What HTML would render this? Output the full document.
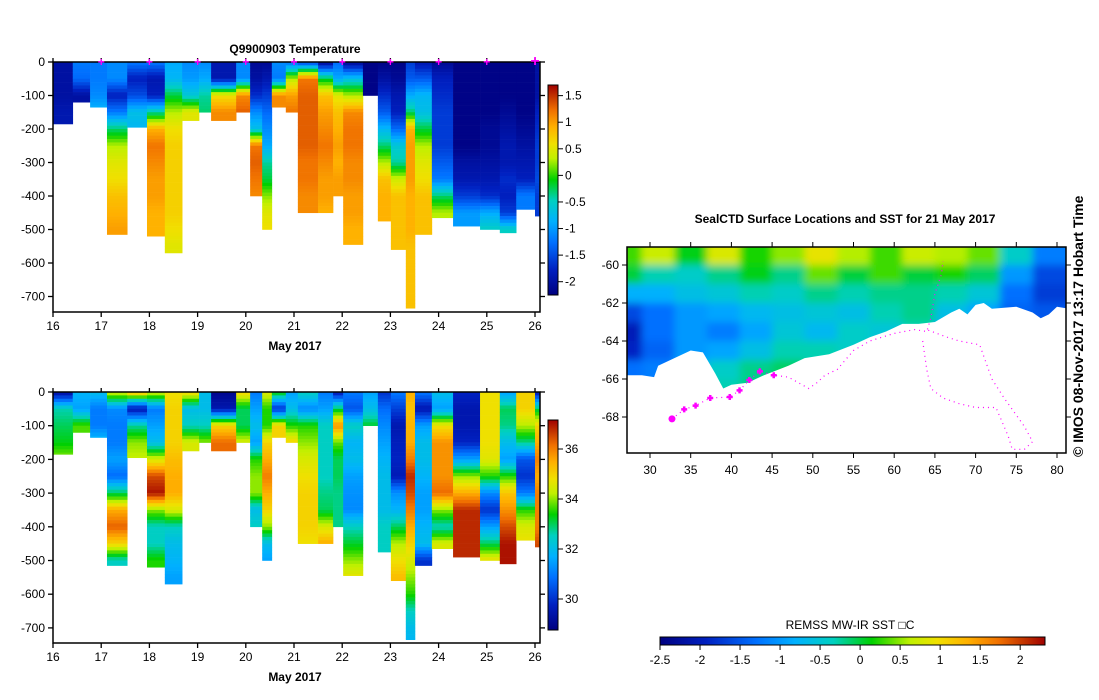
<!DOCTYPE html>
<html><head><meta charset="utf-8">
<style>
body{margin:0;background:#fff;}
svg{display:block;font-family:"Liberation Sans",sans-serif;}
text{fill:#000;}
</style></head>
<body>
<svg id="root" width="1099" height="700" viewBox="0 0 1099 700" xmlns="http://www.w3.org/2000/svg">
<defs>
<clipPath id="mapclip"><rect x="627" y="247" width="439" height="206"/></clipPath>
<filter id="blur" x="-0.1" y="-0.1" width="1.2" height="1.2"><feGaussianBlur stdDeviation="4"/></filter>
</defs>
</svg>
<script>
// ---------- DATA ----------
const profileDays = [16.0,16.41,16.77,17.12,17.54,17.95,18.32,18.68,19.03,19.28,19.80,20.09,20.34,20.54,20.83,21.08,21.50,21.81,22.02,22.43,22.74,23.01,23.32,23.51,23.86,24.30,24.86,25.27,25.61,26.0];
const profileEndDay = 26.1;
const maxDepths = [185,120,135,515,195,520,570,175,150,175,150,400,500,135,150,450,450,400,545,100,475,560,735,515,465,490,500,510,440,460];
// temperature at 0,50,100,... m
const tempProfiles = [
[-2,-2,-2,-1.9],
[-1.2,-1.3,-2],
[-1.2,-1.2,-1.1,-0.8],
[-1.1,-1.1,-1.8,-1.2,-0.3,0.3,0.5,0.6,0.8,0.9,1.0],
[-1.2,-1.8,-1.5,-0.7,-0.8],
[-1.2,-1.9,-1.8,-0.4,0.9,1.2,1.1,1.0,1.0,0.9,0.9],
[-0.9,-0.8,-0.2,0.3,0.6,0.7,0.7,0.7,0.7,0.7,0.6,0.5],
[-1.1,-1.0,-0.6,0.5],
[-1.1,-0.9,-0.4,-0.3],
[-1.9,-1.9,0.6,1.1],
[-1.1,-1.1,1.1,1.3],
[-2.1,-2.0,-1.7,-1.1,-0.7,1.2,1.3,1.2,1.1],
[-2.1,-1.9,-1.6,-1.3,-1.1,-0.9,-0.4,-0.2,0.2,0.5,0.6],
[-1.1,-1.2,1.1],
[-1.3,0.3,1.0,1.2],
[-1.6,1.2,1.3,1.3,1.3,1.3,1.2,1.2,1.1,1.1],
[-2.1,-0.2,0.8,1.0,1.1,1.2,1.1,1.0,1.0,0.9],
[-1.3,-0.9,0.5,0.8,0.9,1.0,0.9,1.0,1.0],
[-2.1,-0.7,0.3,1.1,1.2,1.2,1.1,1.1,1.0,1.0,0.9,0.9],
[-2.2,-2.2,-2.2],
[-2.2,-2.0,-1.7,-1.4,-0.8,-0.3,0.3,0.8,0.9,0.9],
[-2.2,-2.1,-1.9,-1.8,-1.3,-0.6,-0.4,0.4,0.8,0.8,0.8,0.8],
[-1.6,-1.4,-0.9,-0.3,0.9,1.0,1.0,1.0,0.9,0.9,0.9,0.8,0.8,0.8,0.8],
[-1.9,-1.4,-0.8,-0.7,-0.2,0.3,0.5,0.6,0.8,0.8,0.8],
[-2.1,-1.8,-1.7,-1.6,-1.6,-1.6,-1.4,-1.2,-0.3,0.3],
[-2.2,-2.2,-2.2,-2.2,-2.2,-2.2,-2.0,-1.9,-1.6,-1.0],
[-2.2,-2.2,-2.2,-2.2,-2.1,-2.1,-2.0,-1.9,-1.7,-0.9,-0.5],
[-2.2,-2.2,-2.2,-2.1,-2.0,-1.9,-1.9,-1.7,-1.8,-1.6,-0.5],
[-2.2,-2.2,-2.2,-2.2,-2.1,-2.0,-1.9,-1.8,-1.2],
[-2.0,-2.0,-2.0,-1.8,-1.7,-1.6,-1.6,-1.5,-1.6,-1.6]
];
const salProfiles = [
[29.2,32.6,33,33.3,34],
[31.8,31.5,33.7],
[32,31,31,32],
[34.5,31.2,31,31,31.5,30.8,33,35.5,36.3,35,32.5],
[35.5,29.5,32.7,34,34.3],
[34.5,31,31.5,32,34.5,36.5,37,34,32.5,32.5,33.5],
[34.8,35,35,35,35.3,35.5,35.5,34.5,32.5,32,31.8,31.5],
[35,32,32.5,34.5],
[32,32,32.5,34],
[29,29.5,35,36.2],
[35,33,33,34.5],
[31,31.5,32,31.5,33.5,34,34,32,32.5],
[34.5,33.5,33.5,35,35.5,36,35.5,35,34,32,31.5],
[33.5,30,35],
[31.5,32,33.5,35],
[32.5,31.2,33.5,34,34.5,34.8,35,35,35,34.8],
[31,31.5,32.5,32.5,32.5,32.5,32.8,33,34.5,35.5],
[29.5,33,35.8,33.8,33,33,32.8,32.8,32.8],
[31,30.5,32.5,31.8,32,31.5,31.3,31.2,32.5,33.2,34,34.7],
[31.5,32,33.2],
[30,30.8,31.2,31.5,31.8,32,32,32,32.5,32.5],
[31,30.2,29.5,29.7,29.8,29.6,31.3,31.8,33,34.2,34.8,35.3],
[35.5,35.2,35.4,35.5,36,36.8,36.5,36,35.5,35,34.5,34,33.5,32.5,32,31.8],
[31,29.5,31.5,32,32,31.8,31.5,31.5,31.8,32,30],
[32,31.5,34.8,35.8,35.8,35.8,36.2,34,32.5,34.5],
[29.8,29.5,29.5,29.8,31.5,34,35.5,36.8,36.8,36.8],
[34.8,34.8,34.8,34.8,34.6,33.5,31.2,30,31.5,33,34.8],
[31.5,33,32.8,32,31.5,33.5,35.2,35.8,36.5,37,37],
[35,35,34.2,32.8,30.5,30,31,33.5,34.5,34.8],
[29.5,33,35,35.5,36,35.5,36,36,36,36.5]
];
const depthTicks = [0,-100,-200,-300,-400,-500,-600,-700];
const dayTicks = [16,17,18,19,20,21,22,23,24,25,26];
const tempCbTicks = [1.5,1,0.5,0,-0.5,-1,-1.5,-2];
const salCbTicks = [36,34,32,30];
const sstCbTicks = [-2.5,-2,-1.5,-1,-0.5,0,0.5,1,1.5,2];
const lonTicks = [30,35,40,45,50,55,60,65,70,75,80];
const latTicks = [-60,-62,-64,-66,-68];
const sstLons = [27,31,35,39,43,47,51,55,59,63,67,71,75,79];
const sstLats = [-59.5,-60.5,-61.5,-62.5,-63.5,-64.5,-65.5,-66.5];
const sstGrid = [
[0.3,0.7,0.1,0.8,0.2,0.5,0.9,0.6,0.3,0.7,0.6,0.4,-0.4,-1.2],
[0.0,-0.3,-0.4,-0.2,0.1,-0.2,0.4,0.0,0.3,0.0,0.2,-0.1,-1.0,-1.6],
[-0.8,-0.8,-0.6,-0.5,-0.3,-0.4,-0.2,-0.3,-0.2,-0.2,-0.3,-0.5,-1.3,-1.7],
[-1.6,-1.3,-1.0,-0.9,-0.7,-0.6,-0.5,-0.6,-0.3,-0.2,-0.6,-0.9,-1.4,-1.5],
[-2.0,-1.3,-1.0,-1.2,-0.9,-0.5,-0.7,-0.4,-0.5,-0.3,-0.9,-1.3,-1.4,-1.4],
[-1.9,-1.4,-1.0,-0.9,-0.6,-0.3,-0.3,-0.4,-0.5,-0.3,-0.9,-1.3,-1.4,-1.4],
[-1.3,-1.2,-0.9,-0.4,-0.2,-0.1,-0.3,-0.4,-0.5,-0.3,-0.9,-1.3,-1.4,-1.4],
[-1.3,-1.2,-0.9,-0.3,-0.2,-0.1,-0.3,-0.4,-0.5,-0.3,-0.9,-1.3,-1.4,-1.4]
];
const iceLon = [27,29,30.5,31,33,35,36.5,38,39,40,42,44,47,49,52,55,57,59,61,63,65,67,68,69,70,71,72,75,77,78,79,80,81.5];
const iceLat = [-65.8,-65.8,-65.9,-65.3,-64.9,-64.5,-64.6,-65.7,-66.5,-66.3,-66.2,-65.8,-65.3,-64.9,-64.7,-64.2,-63.8,-63.5,-63.1,-63.1,-63.0,-62.5,-62.3,-62.6,-62.1,-62.0,-62.3,-62.2,-62.5,-62.8,-62.6,-62.2,-62.3];
const stationLon = [34.2,35.6,37.4,39.8,41.0,42.2,43.5,45.2];
const stationLat = [-67.6,-67.4,-67.0,-66.95,-66.6,-66.05,-65.6,-65.8];
const trackLon = [32.7,34.2,35.6,37.4,39.8,41,42.2,43.5,45.2,47,49.5,50.5,51.5,53,55,57,60,62.5,64,64.5,65,65.8,66];
const trackLat = [-68.1,-67.6,-67.4,-67.0,-66.95,-66.6,-66.05,-65.6,-65.8,-65.9,-66.5,-66.2,-65.8,-65.5,-64.5,-64.0,-63.6,-63.4,-63.5,-62.8,-61.5,-60.5,-59.8];
const loopLon = [63.5,64,64.5,66,68,70,72.5,73,74,74.5,76,77,76,73.5,72,70.5,68,66.5,64];
const loopLat = [-64,-65.5,-66.5,-67,-67.3,-67.5,-67.5,-68,-69,-69.7,-69.7,-69.3,-68.5,-67,-66,-64.2,-64,-63.8,-63.4];

// ---------- HELPERS ----------
const NS="http://www.w3.org/2000/svg";
const root=document.getElementById('root');
function mk(tag,attrs,parent){const e=document.createElementNS(NS,tag);for(const k in attrs)e.setAttribute(k,attrs[k]);(parent||root).appendChild(e);return e;}
function txt(s,x,y,size,anchor,bold,parent){const t=mk('text',{x:x,y:y,'font-size':size,'text-anchor':anchor||'start','font-weight':bold?'bold':'normal'},parent);t.textContent=s;return t;}
const stops=[[0,[0,0,128]],[0.12,[0,32,192]],[0.25,[0,112,255]],[0.35,[0,176,255]],[0.45,[0,208,192]],[0.55,[0,208,0]],[0.65,[192,240,0]],[0.72,[240,224,0]],[0.80,[255,176,0]],[0.88,[240,112,0]],[0.95,[192,48,0]],[1,[160,0,0]]];
function jet(t){t=Math.max(0,Math.min(1,t));for(let i=1;i<stops.length;i++){if(t<=stops[i][0]){const a=stops[i-1],b=stops[i];const f=(t-a[0])/(b[0]-a[0]);const c=a[1].map((v,j)=>Math.round(v+(b[1][j]-v)*f));return 'rgb('+c.join(',')+')';}}return 'rgb(160,0,0)';}
function gradient(id,vertical){const g=mk('linearGradient',{id:id,x1:0,y1:vertical?1:0,x2:vertical?0:1,y2:0},root.querySelector('defs'));stops.forEach(s=>mk('stop',{offset:s[0],'stop-color':jet(s[0])},g));}
gradient('gv',true);gradient('gh',false);

function section(name,vals,vmin,vmax,y0,yScale,yBottom,cbTop,cbBot,cbTicks){
  const g=mk('g',{},root);
  
  
  const x0=53,x1=540;
  const X=d=>x0+(d-16)*48.2;
  const Y=m=>y0+m*yScale;
  for(let p=0;p<profileDays.length;p++){
    const xa=X(profileDays[p]),xb=X(p+1<profileDays.length?profileDays[p+1]:profileEndDay);
    const prof=vals[p];
    const col=mk('g',{},g);
    
    
    for(let m=0;m<maxDepths[p];m+=10){
      const dm=m+5;const i=Math.min(Math.floor(dm/50),prof.length-2);const f=Math.min(1,(dm-i*50)/50);
      const v=prof[i]+(prof[i+1]-prof[i])*f;
      const h=Math.min(10,maxDepths[p]-m);
      mk('rect',{x:xa,y:Y(m),width:xb-xa+0.3,height:h*yScale+0.3,fill:jet((v-vmin)/(vmax-vmin))},col);
    }
  }
  const fr=mk('rect',{x:x0,y:y0,width:x1-x0,height:yBottom-y0,fill:'none',stroke:'#000','stroke-width':1.5},g);
  
  
  depthTicks.forEach(t=>{const y=Y(-t);mk('line',{x1:x0-5,x2:x0,y1:y,y2:y,stroke:'#000','stroke-width':1.3},g);mk('line',{x1:x1,x2:x1+5,y1:y,y2:y,stroke:'#000','stroke-width':1.3},g);const l=txt(String(t),x0-8,y+4,12,'end',false,g);});
  dayTicks.forEach(d=>{const x=X(d);mk('line',{x1:x,x2:x,y1:yBottom,y2:yBottom+5,stroke:'#000','stroke-width':1.3},g);mk('line',{x1:x,x2:x,y1:y0-4,y2:y0,stroke:'#000','stroke-width':1.3},g);const l=txt(String(d),x,yBottom+18,12,'middle',false,g);});
  const xl=txt('May 2017',295,yBottom+38,12,'middle',true,g);
  
  
  const cb=mk('rect',{x:548,y:cbTop,width:10,height:cbBot-cbTop,fill:'url(#gv)',stroke:'#000','stroke-width':1},g);
  
  
  const cy=v=>cbBot-(v-vmin)/(vmax-vmin)*(cbBot-cbTop);
  cbTicks.forEach(v=>{const y=cy(v);mk('line',{x1:558,x2:563,y1:y,y2:y,stroke:'#000'},g);const l=txt(String(v),565,y+4,12,'start',false,g);});
  return {X,Y};
}
const topSec=section('temperature-section',tempProfiles,-2.25,1.7,62,0.335,312,85,295,tempCbTicks);
const tt=txt('Q9900903  Temperature',295,53,12,'middle',true);


dayTicks.slice(1).forEach(d=>{const x=topSec.X(d);const m=mk('text',{x:x,y:66,'font-size':d===26?16:12,'text-anchor':'middle','font-weight':'bold',style:'fill:#ff00ff'});m.textContent='+';

});
section('salinity-section',salProfiles,28.76,37.16,392,0.337,643,420,630,salCbTicks);

// ---------- MAP ----------
const mg=mk('g',{},root);


const LX=l=>650+(l-30)*8.14;
const LY=l=>265+(-60-l)*19;
const smin=-2.5,smax=2.31;
const field=mk('g',{'clip-path':'url(#mapclip)'},mg);
const fb=mk('g',{filter:'url(#blur)'},field);
mk('rect',{x:600,y:220,width:500,height:260,fill:jet((-0.8-smin)/(smax-smin))},fb);
for(let r=0;r<sstLats.length;r++)for(let c=0;c<sstLons.length;c++){
  const v=sstGrid[r][c];
  const cell=mk('rect',{x:LX(sstLons[c]-2)-(c===0?20:0),y:LY(sstLats[r]+0.5)-(r===0?15:0),width:4*8.14+1+(c===0?20:0)+(c===sstLons.length-1?20:0),height:19+1+(r===0?15:0),fill:jet((v-smin)/(smax-smin))},fb);
  
  
}
let pts=iceLon.map((l,i)=>LX(l)+','+LY(iceLat[i])).join(' ');
pts+=' '+LX(81.5)+','+LY(-71)+' '+LX(26)+','+LY(-71)+' '+LX(26)+','+LY(-65.8);
const ice=mk('polygon',{points:pts,fill:'#fff'},field);


const tr=mk('polyline',{points:trackLon.map((l,i)=>LX(l)+','+LY(trackLat[i])).join(' '),fill:'none',stroke:'#ff00ff','stroke-width':1.2,'stroke-dasharray':'1 4'},field);


const lp=mk('polyline',{points:loopLon.map((l,i)=>LX(l)+','+LY(loopLat[i])).join(' '),fill:'none',stroke:'#ff00ff','stroke-width':1.2,'stroke-dasharray':'1 4'},field);


stationLon.forEach((l,i)=>{const x=LX(l),y=LY(stationLat[i]);const s=mk('path',{d:`M${x-3},${y}h6M${x},${y-3}v6`,stroke:'#ff00ff','stroke-width':2.5},field);

});
const big=mk('circle',{cx:LX(32.7),cy:LY(-68.1),r:3.5,fill:'#ff00ff'},field);


const mf=mk('rect',{x:627,y:247,width:439,height:206,fill:'none',stroke:'#000','stroke-width':1.5},mg);


lonTicks.forEach(l=>{const x=LX(l);mk('line',{x1:x,x2:x,y1:453,y2:458,stroke:'#000'},mg);mk('line',{x1:x,x2:x,y1:242,y2:247,stroke:'#000'},mg);const t=txt(String(l),x,474,12,'middle',false,mg);});
latTicks.forEach(l=>{const y=LY(l);mk('line',{x1:622,x2:627,y1:y,y2:y,stroke:'#000'},mg);mk('line',{x1:1066,x2:1071,y1:y,y2:y,stroke:'#000'},mg);const t=txt(String(l),619,y+4,12,'end',false,mg);});
const mt=txt('SealCTD Surface Locations and SST for 21 May 2017',845,223,12,'middle',true,mg);


const cr=mk('text',{x:0,y:0,'font-size':14,'font-weight':'bold',transform:'translate(1083,457) rotate(-90)'},root);
cr.textContent='© IMOS 08-Nov-2017 13:17 Hobart Time';


const hb=mk('rect',{x:660,y:637,width:385,height:8,fill:'url(#gh)',stroke:'#000','stroke-width':1},root);


const hx=v=>660+(v-smin)/(smax-smin)*385;
sstCbTicks.forEach(v=>{const x=hx(v);mk('line',{x1:x,x2:x,y1:645,y2:650,stroke:'#000'});const t=txt(String(v),x,664,12,'middle');});
const ht=txt('REMSS MW-IR SST \u25A1C',850,629,12,'middle');


</script>
</body></html>
